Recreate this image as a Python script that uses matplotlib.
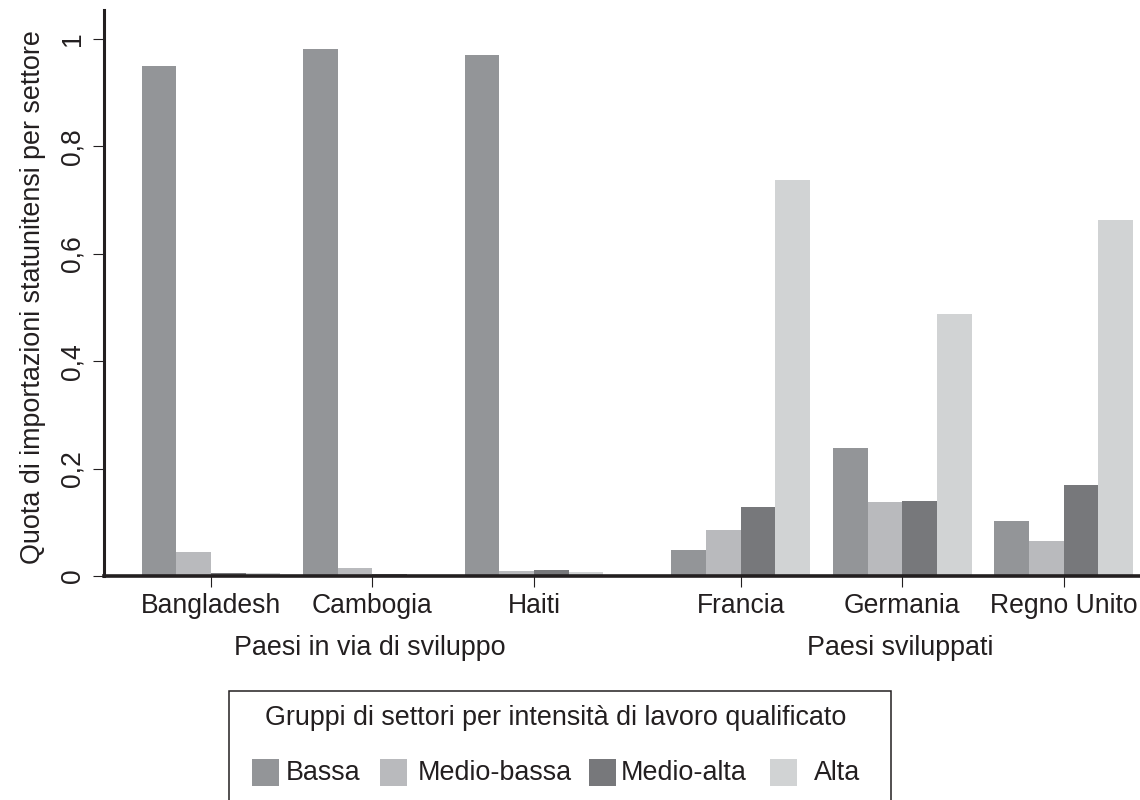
#!/usr/bin/env python3

import numpy as np
import matplotlib
matplotlib.use("Agg")
import matplotlib.pyplot as plt
from matplotlib.patches import Rectangle

plt.rcParams['font.family'] = ['Liberation Sans', 'DejaVu Sans']

countries = ['Bangladesh', 'Cambogia', 'Haiti', 'Francia', 'Germania', 'Regno Unito']
bassa = [0.950, 0.982, 0.970, 0.049, 0.238, 0.102]
medio_bassa = [0.045, 0.014, 0.010, 0.086, 0.138, 0.066]
medio_alta = [0.005, 0.003, 0.012, 0.128, 0.140, 0.170]
alta = [0.005, 0.001, 0.008, 0.738, 0.488, 0.663]
series_names = ['Bassa', 'Medio-bassa', 'Medio-alta', 'Alta']
y_ticks = [0, 0.2, 0.4, 0.6, 0.8, 1]
y_tick_labels = ['0', '0,2', '0,4', '0,6', '0,8', '1']

W, H = 1140, 800
TEXT = '#231f20'
colors = ['#939598', '#b9babd', '#77787b', '#d1d3d4']
FS = 19.4

# gruppi: 3 paesi + stacco + 3 paesi
x = np.array([0, 1, 2, 3.28, 4.28, 5.28])
bar_w = 0.2145

fig = plt.figure(figsize=(W / 100, H / 100), dpi=100)
ax = fig.add_axes([104.5 / W, 1 - 576 / H, (W - 104.5) / W, (576 - 10) / H])

for i, vals in enumerate([bassa, medio_bassa, medio_alta, alta]):
    ax.bar(x + (i - 1.5) * bar_w, vals, width=bar_w, color=colors[i], linewidth=0)

ax.set_xlim(-0.659, 5.752)
ax.set_ylim(0, 1.054)

ax.spines['top'].set_visible(False)
ax.spines['right'].set_visible(False)
ax.spines['left'].set_linewidth(2.2)
ax.spines['left'].set_color(TEXT)
ax.spines['bottom'].set_linewidth(2.6)
ax.spines['bottom'].set_color(TEXT)

ax.set_xticks(x)
ax.set_xticklabels(countries)
ax.set_yticks(y_ticks)
ax.set_yticklabels(y_tick_labels, rotation=90, va='center')
ax.tick_params(axis='x', length=8, width=0.8, color=TEXT, labelcolor=TEXT, labelsize=19.1, pad=4.5)
ax.tick_params(axis='y', length=8, width=0.8, color=TEXT, labelcolor=TEXT, labelsize=19.1, pad=5.5)
ax.set_ylabel('Quota di importazioni statunitensi per settore', fontsize=FS, color=TEXT,
              labelpad=10, y=0.493)

# etichette dei due gruppi di paesi
trans = ax.get_xaxis_transform()
ax.text(x[:3].mean() - 0.015, -72 / 566, 'Paesi in via di sviluppo', transform=trans,
        ha='center', va='center', fontsize=FS, color=TEXT)
ax.text(x[3:].mean() - 0.015, -72 / 566, 'Paesi sviluppati', transform=trans,
        ha='center', va='center', fontsize=FS, color=TEXT)

# legenda disegnata a mano, le spaziature non sono regolari
fig.add_artist(Rectangle((229 / W, -10 / H), (891 - 229) / W, (800 - 691 + 10) / H,
                         transform=fig.transFigure, fill=False, edgecolor=TEXT, linewidth=1.1))
fig.text(555.5 / W, 1 - 718 / H, 'Gruppi di settori per intensità di lavoro qualificato',
         ha='center', va='center', fontsize=FS, color=TEXT)
patch_x = [252, 380, 588.5, 770]
label_x = [286, 418, 621, 814]
for name, c, px, lx in zip(series_names, colors, patch_x, label_x):
    fig.add_artist(Rectangle((px / W, 1 - 786 / H), 27 / W, 27 / H,
                             transform=fig.transFigure, facecolor=c, linewidth=0))
    fig.text(lx / W, 1 - 773.5 / H, name, ha='left', va='center', fontsize=FS, color=TEXT)

fig.savefig('out.png', dpi=100)
